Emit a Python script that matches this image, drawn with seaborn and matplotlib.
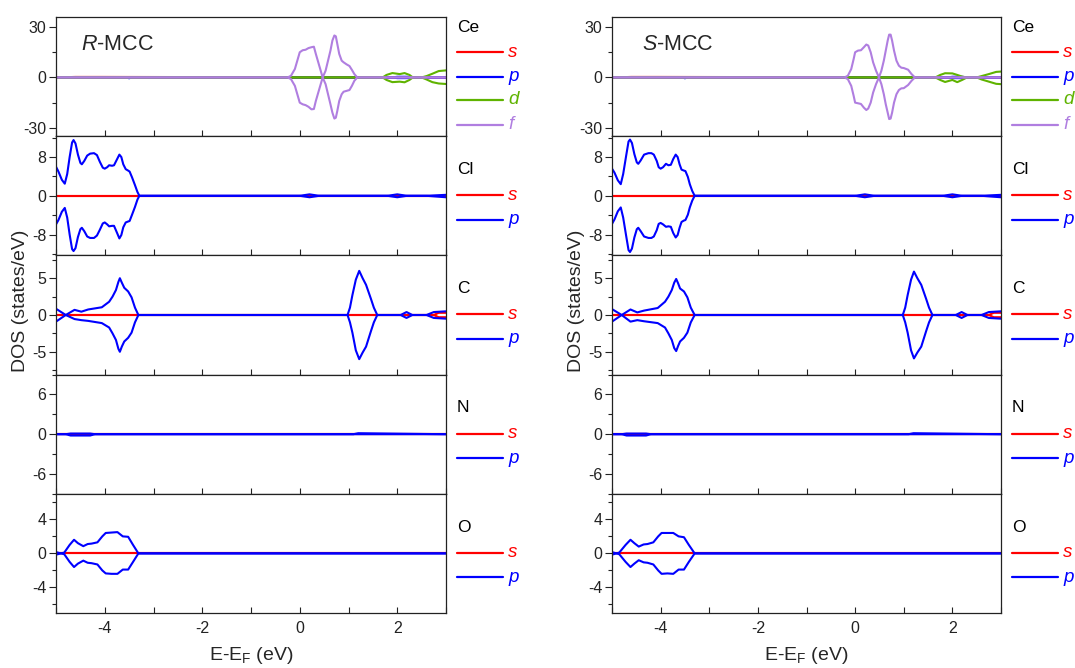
import numpy as np
import pandas as pd
import matplotlib
matplotlib.use("Agg")
import matplotlib.pyplot as plt
from matplotlib.lines import Line2D
from matplotlib.ticker import MultipleLocator
import seaborn as sns

# ---------------- data ----------------
# energies in eV, DOS in states/eV ; "up" = spin up (positive), "dn" = spin down (negative)

# ===== R-MCC =====
R_CE_F_E  = [-5.0, -0.25, -0.18, -0.1, -0.04, 0.0, 0.06, 0.12, 0.18, 0.24, 0.29, 0.33, 0.38, 0.43, 0.47, 0.53, 0.58, 0.63, 0.67, 0.71, 0.74, 0.77, 0.81, 0.86, 0.9, 0.96, 1.02, 1.07, 1.12, 1.18, 3.0]
R_CE_F_UP = [0, 0, 1, 5, 11, 15, 16.2, 16.5, 17.5, 18.0, 18.3, 14, 9, 4, 0, 4, 10, 16, 22, 25, 24.5, 20, 14, 10, 9, 7.8, 6.8, 4.5, 2, 0, 0]
R_CE_F_DN = [0, 0, -1, -5, -11, -15, -16, -16.5, -17.5, -19, -18.8, -14, -9, -4, 0, -4, -10, -16, -21, -24.5, -24, -20, -14, -10, -8.5, -8.0, -7.5, -5, -2, 0, 0]
R_CE_D_E  = [-5.0, 1.7, 1.78, 1.9, 2.05, 2.15, 2.25, 2.32, 2.5, 2.6, 2.72, 2.85, 3.0]
R_CE_D_UP = [0, 0, 1.5, 2.6, 2.0, 2.6, 1.5, 0, 0, 0.8, 2.2, 3.8, 4.2]
R_CE_D_DN = [0, 0, -1.5, -2.8, -2.5, -2.9, -1.5, 0, 0, -1.2, -2.8, -3.6, -3.9]
R_CE_P_E  = [-5.0, -3.55, -3.5, -3.45, 1.9, 2.0, 2.2, 2.3, 3.0]
R_CE_P_UP = [0, 0, 0, 0, 0, 0.4, 0.4, 0, 0]
R_CE_P_DN = [0, 0, -0.5, 0, 0, -0.4, -0.4, 0, 0]
R_CE_S_E  = [-5.0, -4.6, -4.1, 3.0]
R_CE_S_UP = [0, 0.3, 0.3, 0]
R_CE_S_DN = [0, -0.2, -0.2, 0]

R_CL_P_E  = [-5.0, -4.95, -4.88, -4.82, -4.77, -4.72, -4.67, -4.64, -4.6, -4.55, -4.5, -4.47, -4.42, -4.36, -4.3, -4.22, -4.16, -4.1, -4.04, -4.0, -3.95, -3.91, -3.85, -3.81, -3.75, -3.7, -3.66, -3.62, -3.57, -3.52, -3.49, -3.44, -3.38, -3.33, -3.29, 0.0, 0.2, 0.4, 1.8, 2.0, 2.2, 2.6, 3.0]
R_CL_P_UP = [6.0, 5.0, 3.3, 2.5, 4.5, 8.0, 11.0, 11.5, 10.8, 8.5, 6.8, 6.5, 7.2, 8.3, 8.7, 8.8, 8.4, 7.0, 5.8, 5.6, 5.9, 6.3, 6.2, 6.3, 7.5, 8.5, 8.0, 6.5, 5.5, 5.2, 5.0, 3.8, 2.2, 0.8, 0.0, 0.0, 0.3, 0.0, 0.0, 0.3, 0.0, 0.0, 0.2]
R_CL_P_DN = [-5.9, -5.0, -3.3, -2.5, -4.5, -8.0, -11.0, -11.4, -10.8, -8.5, -6.9, -6.6, -7.3, -8.4, -8.7, -8.7, -8.2, -7.0, -5.7, -5.5, -5.9, -6.3, -6.2, -6.2, -7.6, -8.8, -8.1, -6.5, -5.5, -5.3, -5.2, -3.9, -2.3, -0.8, 0.0, 0.0, -0.3, 0.0, 0.0, -0.3, 0.0, 0.0, -0.3]
R_CL_S_E  = [-5.0, 3.0]
R_CL_S_UP = [0, 0]
R_CL_S_DN = [0, 0]

R_C_P_E  = [-5.0, -4.8, -4.62, -4.48, -4.34, -4.06, -3.91, -3.84, -3.77, -3.72, -3.69, -3.65, -3.6, -3.52, -3.45, -3.38, -3.31, 0.98, 1.03, 1.08, 1.15, 1.22, 1.29, 1.36, 1.46, 1.52, 1.59, 2.07, 2.19, 2.31, 2.6, 2.75, 3.0]
R_C_P_UP = [0.85, 0.0, 0.7, 0.45, 0.75, 1.05, 1.8, 2.5, 3.4, 4.5, 5.0, 4.4, 3.7, 3.2, 2.4, 1.0, 0.0, 0.0, 1.0, 2.7, 4.8, 6.0, 5.0, 4.1, 2.2, 1.0, 0.0, 0.0, 0.4, 0.0, 0.0, 0.4, 0.5]
R_C_P_DN = [-0.9, 0.0, -0.55, -0.7, -0.8, -1.1, -1.7, -2.5, -3.4, -4.6, -5.0, -4.3, -3.6, -3.1, -2.4, -1.0, 0.0, 0.0, -1.0, -2.4, -4.8, -6.0, -5.1, -4.3, -2.2, -1.0, 0.0, 0.0, -0.4, 0.0, 0.0, -0.4, -0.5]
R_C_S_E  = [-5.0, 2.75, 2.85, 3.0]
R_C_S_UP = [0, 0, 0.3, 0.3]
R_C_S_DN = [0, 0, -0.3, -0.3]

R_N_P_E  = [-5.0, -4.8, -4.7, -4.3, -4.2, 1.1, 1.2, 3.0]
R_N_P_UP = [0, 0, 0.1, 0.1, 0, 0, 0.15, 0]
R_N_P_DN = [0, 0, -0.2, -0.2, 0, 0, 0, 0]
R_N_S_E  = [-5.0, 3.0]
R_N_S_UP = [0, 0]
R_N_S_DN = [0, 0]

R_O_P_E  = [-5.0, -4.83, -4.72, -4.63, -4.55, -4.44, -4.35, -4.27, -4.15, -4.05, -3.98, -3.86, -3.74, -3.63, -3.52, -3.42, -3.31, 3.0]
R_O_P_UP = [-0.15, 0.1, 1.0, 1.6, 1.2, 0.85, 1.1, 1.15, 1.3, 2.0, 2.4, 2.45, 2.5, 2.0, 1.95, 1.0, 0.0, 0.0]
R_O_P_DN = [0.15, -0.1, -1.0, -1.6, -1.2, -0.85, -1.1, -1.15, -1.3, -2.0, -2.35, -2.4, -2.4, -1.9, -1.9, -1.0, 0.0, 0.0]
R_O_S_E  = [-5.0, 3.0]
R_O_S_UP = [0, 0]
R_O_S_DN = [0, 0]

# ===== S-MCC =====
S_CE_F_E  = [-5.0, -0.22, -0.15, -0.08, -0.03, 0.0, 0.06, 0.12, 0.18, 0.23, 0.27, 0.32, 0.37, 0.43, 0.49, 0.54, 0.59, 0.63, 0.67, 0.7, 0.73, 0.76, 0.8, 0.85, 0.9, 0.95, 1.0, 1.09, 1.16, 1.23, 3.0]
S_CE_F_UP = [0, 0, 1, 5, 11, 15, 16, 16.2, 18, 19.6, 19, 15, 9, 4, 0, 4, 10, 16, 22, 25.5, 25.5, 22, 16, 10, 7, 5.8, 5.6, 4.6, 2, 0, 0]
S_CE_F_DN = [0, 0, -1, -5, -11, -15, -15.4, -15.8, -18, -19.4, -18.5, -15, -9, -4, 0, -4, -10, -16, -21, -24.8, -24.5, -21, -15, -10, -7.5, -6.5, -6.4, -4.5, -2, 0, 0]
S_CE_D_E  = [-5.0, 1.65, 1.75, 1.85, 2.0, 2.1, 2.2, 2.3, 2.5, 2.6, 2.75, 2.9, 3.0]
S_CE_D_UP = [0, 0, 1.5, 2.5, 2.4, 1.5, 0.5, 0, 0, 0.8, 2.0, 3.3, 3.5]
S_CE_D_DN = [0, 0, -1.5, -2.7, -1.5, -2.8, -1.5, 0, 0, -1.2, -2.5, -3.8, -4.0]
S_CE_P_E  = [-5.0, -3.55, -3.5, -3.45, 1.9, 2.0, 2.2, 2.3, 3.0]
S_CE_P_UP = [0, 0, 0, 0, 0, 0.4, 0.4, 0, 0]
S_CE_P_DN = [0, 0, -0.5, 0, 0, -0.4, -0.4, 0, 0]
S_CE_S_E  = [-5.0, -4.6, -4.1, 3.0]
S_CE_S_UP = [0, 0.3, 0.3, 0]
S_CE_S_DN = [0, -0.2, -0.2, 0]

S_CL_P_E  = [-5.0, -4.95, -4.88, -4.82, -4.77, -4.71, -4.66, -4.63, -4.59, -4.54, -4.49, -4.46, -4.41, -4.34, -4.25, -4.19, -4.14, -4.08, -4.04, -4.0, -3.95, -3.89, -3.84, -3.79, -3.74, -3.69, -3.65, -3.61, -3.57, -3.52, -3.49, -3.44, -3.4, -3.35, -3.3, 0.0, 0.2, 0.4, 1.8, 2.0, 2.2, 2.6, 3.0]
S_CL_P_UP = [5.6, 4.8, 3.2, 2.4, 4.5, 8.2, 11.2, 11.6, 10.9, 8.6, 6.9, 6.6, 7.3, 8.5, 8.8, 8.8, 8.5, 7.2, 5.9, 5.6, 5.9, 6.6, 6.3, 6.4, 7.6, 8.5, 8.0, 6.5, 5.4, 5.2, 5.1, 3.9, 2.4, 1.0, 0.0, 0.0, 0.3, 0.0, 0.0, 0.3, 0.0, 0.0, 0.2]
S_CL_P_DN = [-5.8, -4.9, -3.2, -2.4, -4.5, -8.2, -11.2, -11.6, -10.9, -8.6, -6.9, -6.6, -7.3, -8.4, -8.7, -8.7, -8.4, -7.1, -5.8, -5.6, -5.9, -6.4, -6.3, -6.4, -7.7, -8.6, -8.1, -6.6, -5.4, -5.1, -5.0, -3.9, -2.4, -1.0, 0.0, 0.0, -0.3, 0.0, 0.0, -0.3, 0.0, 0.0, -0.3]
S_CL_S_E  = [-5.0, 3.0]
S_CL_S_UP = [0, 0]
S_CL_S_DN = [0, 0]

S_C_P_E  = [-5.0, -4.8, -4.62, -4.48, -4.34, -4.06, -3.91, -3.84, -3.77, -3.72, -3.68, -3.64, -3.6, -3.52, -3.45, -3.38, -3.3, 0.98, 1.03, 1.08, 1.15, 1.21, 1.28, 1.36, 1.46, 1.52, 1.59, 2.07, 2.19, 2.31, 2.6, 2.75, 3.0]
S_C_P_UP = [0.8, 0.0, 0.75, 0.35, 0.6, 0.95, 1.8, 2.5, 3.4, 4.4, 4.9, 4.3, 3.6, 3.2, 2.4, 1.0, 0.0, 0.0, 1.0, 2.7, 4.8, 5.9, 5.0, 4.1, 2.2, 1.0, 0.0, 0.0, 0.4, 0.0, 0.0, 0.4, 0.5]
S_C_P_DN = [-0.9, 0.0, -0.9, -0.7, -0.85, -1.1, -1.7, -2.5, -3.4, -4.5, -4.9, -4.2, -3.6, -3.1, -2.4, -1.0, 0.0, 0.0, -1.0, -2.4, -4.8, -5.9, -5.1, -4.3, -2.2, -1.0, 0.0, 0.0, -0.4, 0.0, 0.0, -0.4, -0.5]
S_C_S_E  = [-5.0, 2.75, 2.85, 3.0]
S_C_S_UP = [0, 0, 0.3, 0.3]
S_C_S_DN = [0, 0, -0.3, -0.3]

S_N_P_E  = [-5.0, -4.8, -4.7, -4.3, -4.2, 1.1, 1.2, 3.0]
S_N_P_UP = [0, 0, 0.1, 0.1, 0, 0, 0.15, 0]
S_N_P_DN = [0, 0, -0.2, -0.2, 0, 0, 0, 0]
S_N_S_E  = [-5.0, 3.0]
S_N_S_UP = [0, 0]
S_N_S_DN = [0, 0]

S_O_P_E  = [-5.0, -4.85, -4.72, -4.62, -4.54, -4.45, -4.35, -4.27, -4.15, -4.05, -3.98, -3.86, -3.74, -3.63, -3.52, -3.42, -3.3, 3.0]
S_O_P_UP = [-0.15, 0.1, 1.0, 1.6, 1.2, 0.8, 1.05, 1.1, 1.3, 2.0, 2.4, 2.4, 2.4, 2.0, 1.9, 1.0, 0.0, 0.0]
S_O_P_DN = [0.15, -0.1, -1.0, -1.6, -1.2, -0.8, -1.05, -1.1, -1.3, -2.0, -2.4, -2.35, -2.4, -1.9, -1.9, -1.0, 0.0, 0.0]
S_O_S_E  = [-5.0, 3.0]
S_O_S_UP = [0, 0]
S_O_S_DN = [0, 0]

ELEMENTS = ["Ce", "Cl", "C", "N", "O"]
ORBITALS = {"Ce": ["s", "p", "d", "f"], "Cl": ["s", "p"], "C": ["s", "p"], "N": ["s", "p"], "O": ["s", "p"]}
YLIMS = {"Ce": (-35, 36), "Cl": (-12.3, 12.3), "C": (-8.1, 8.1), "N": (-9, 9), "O": (-7, 7)}
YMAJOR = {"Ce": 30, "Cl": 8, "C": 5, "N": 6, "O": 4}
XTICKS = [-4, -2, 0, 2]
TITLES = ["R-MCC", "S-MCC"]

G = globals()

def series(prefix, el, orb):
    key = f"{prefix}_{el.upper()}_{orb.upper()}"
    return G[key + "_E"], G[key + "_UP"], G[key + "_DN"]

# ---------------- style ----------------
sns.set_theme(style="ticks")
plt.rcParams["font.family"] = ["Liberation Sans", "DejaVu Sans"]
plt.rcParams["mathtext.fontset"] = "custom"
plt.rcParams["mathtext.rm"] = "Liberation Sans"
plt.rcParams["mathtext.it"] = "Liberation Sans:italic"
plt.rcParams["axes.unicode_minus"] = False

COLORS = {"s": "#ff0000", "p": "#0000ff", "d": "#5fb300", "f": "#b07ee0"}
LW = 1.5

fig = plt.figure(figsize=(10.75, 6.68), dpi=100)
W, H = 1075, 668

col_left = [56, 612]
col_width = [390, 389]
top_px, bot_px = 17, 613
panel_h = (bot_px - top_px) / 5
leg_dx = [11, 57, 62]   # title/line start, line end, label (px from axes right)

for c, prefix in enumerate(["R", "S"]):
    for r, el in enumerate(ELEMENTS):
        y0 = top_px + r * panel_h
        ax = fig.add_axes([col_left[c] / W, 1 - (y0 + panel_h) / H, col_width[c] / W, panel_h / H])
        for orb in ORBITALS[el]:
            e, up, dn = series(prefix, el, orb)
            sns.lineplot(x=e, y=up, ax=ax, color=COLORS[orb], lw=LW, sort=False, estimator=None)
            sns.lineplot(x=e, y=dn, ax=ax, color=COLORS[orb], lw=LW, sort=False, estimator=None)
        ax.set_xlim(-5, 3)
        ax.set_ylim(*YLIMS[el])
        ax.set_xticks(XTICKS)
        ax.xaxis.set_minor_locator(MultipleLocator(1))
        ax.yaxis.set_major_locator(MultipleLocator(YMAJOR[el]))
        ax.yaxis.set_minor_locator(MultipleLocator(YMAJOR[el] / 2))
        ax.tick_params(axis="x", which="both", direction="in", length=4, width=0.8, top=False,
                       labelsize=11.5, colors="#222222", pad=6)
        ax.tick_params(axis="y", which="both", direction="out", width=0.8, labelsize=11.5,
                       colors="#222222", pad=2)
        ax.tick_params(axis="y", which="major", length=5)
        ax.tick_params(axis="y", which="minor", length=3)
        for sp in ax.spines.values():
            sp.set_linewidth(0.9)
            sp.set_color("#222222")
        ax.set_xlabel("")
        ax.set_ylabel("")
        if r < 4:
            ax.tick_params(axis="x", labelbottom=False)
        else:
            ax.set_xlabel("E-E$_\\mathregular{F}$ (eV)", fontsize=14, labelpad=6)
        if r == 2:
            ax.set_ylabel("DOS (states/eV)", fontsize=14, labelpad=2)
            ax.yaxis.set_label_coords(-27 / col_width[c], 0.62)
        if r == 0:
            name = TITLES[c]
            ax.text(0.064 if c == 0 else 0.077, 0.77, "$\\mathit{" + name[0] + "}$" + name[1:],
                    transform=ax.transAxes, fontsize=15.5, va="center", ha="left")

        # legend drawn manually at the right of the panel
        w = col_width[c]
        xt = 1 + leg_dx[0] / w
        xe = 1 + leg_dx[1] / w
        xl = 1 + leg_dx[2] / w
        if el == "Ce":
            ys = [0.915, 0.705, 0.497, 0.304, 0.094]
        else:
            ys = [0.72, 0.505, 0.30]
        ax.text(xt, ys[0], el, transform=ax.transAxes, fontsize=12.5, va="center", ha="left",
                color="black", clip_on=False)
        for orb, yy in zip(ORBITALS[el], ys[1:]):
            ax.add_artist(Line2D([xt, xe], [yy, yy], transform=ax.transAxes, color=COLORS[orb],
                                 lw=1.6, clip_on=False))
            ax.text(xl, yy, orb, transform=ax.transAxes, fontsize=13.5, style="italic",
                    va="center", ha="left", color=COLORS[orb], clip_on=False)

fig.savefig("out.png", dpi=100)
